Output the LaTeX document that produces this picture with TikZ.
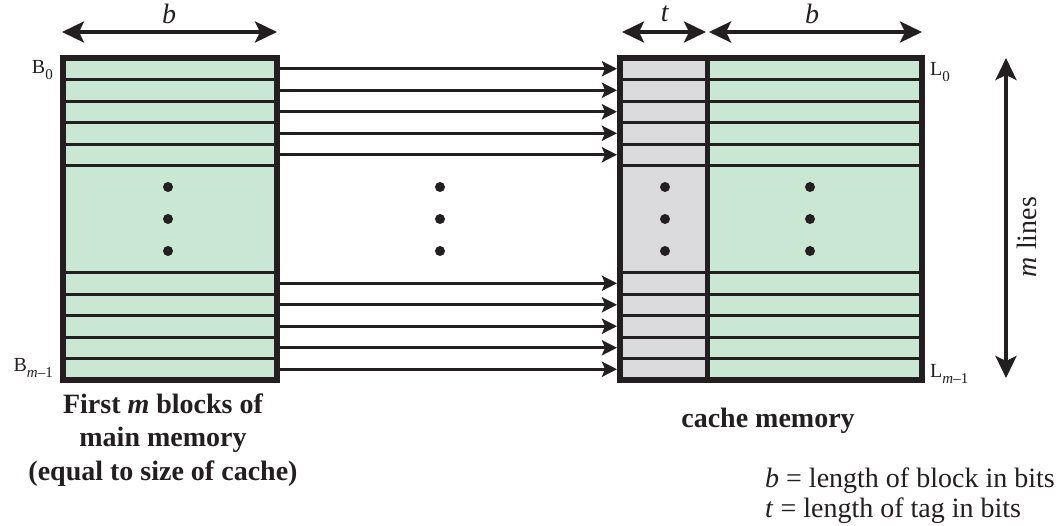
\documentclass[tikz,border=0pt]{standalone}
\usepackage{fontspec}
\setmainfont{Liberation Serif}
\usetikzlibrary{arrows.meta}
\definecolor{blkgreen}{RGB}{201,231,211}
\definecolor{taggray}{RGB}{219,219,222}
\definecolor{ink}{RGB}{35,31,32}
\newcommand{\lsub}[1]{\raisebox{-6pt}{\fontsize{15}{15}\selectfont #1}}

\begin{document}
\begin{tikzpicture}[x=1pt,y=-1pt,
  every node/.style={font=\fontsize{28}{30}\selectfont, text=ink, inner sep=0pt},
  lbl/.style={font=\fontsize{20}{22}\selectfont},
  frame/.style={draw=ink, line width=6pt},
  sep/.style={draw=ink, line width=3pt},
  dimarrow/.style={draw=ink, line width=4pt,
    {Stealth[length=22pt,width=21pt,inset=5pt]}-{Stealth[length=22pt,width=21pt,inset=5pt]}},
  maparrow/.style={draw=ink, line width=3pt, -{Stealth[length=15pt,width=15pt,inset=3pt]}}]
\useasboundingbox (0,0) rectangle (1059,525);

% main memory and cache fills
\fill[blkgreen] (63,58) rectangle (277,380);
\fill[taggray] (620,58) rectangle (707,380);
\fill[blkgreen] (707,58) rectangle (922,380);

% rows at top and bottom, with the mapping arrows
\foreach \k in {1,...,5} {
 \draw[sep] (63,{58+21.5*\k}) --++(214,0);
 \draw[sep] (63,{380-21.5*\k}) --++(214,0);
 \draw[sep] (620,{58+21.5*\k}) --++(302,0);
 \draw[sep] (620,{380-21.5*\k}) --++(302,0);
 \coordinate (Bt\k) at (280,{58+21.5*(\k-0.5)});
 \coordinate (Lt\k) at (617,{58+21.5*(\k-0.5)});
 \coordinate (Bb\k) at (280,{380-21.5*(\k-0.5)});
 \coordinate (Lb\k) at (617,{380-21.5*(\k-0.5)});
 \draw[maparrow] (Bt\k) -- (Lt\k);
 \draw[maparrow] (Bb\k) -- (Lb\k);
}

% frames
\draw[frame] (63,58) rectangle (277,380);
\draw[frame] (620,58) rectangle (922,380);
\draw[ink, line width=5pt] (707,58) -- (707,380);

% vertical dots
\foreach \x in {168, 440, 665, 810} {
 \foreach \y in {187, 219, 251}
  \fill[ink] (\x,\y) circle (5pt);
}

% widths
\coordinate (bL) at (62,32);
\coordinate (bR) at (277,32);
\coordinate (tL) at (622,32);
\coordinate (tR) at (706,32);
\coordinate (cL) at (709,32);
\coordinate (cR) at (922,32);
\draw[dimarrow] (bL) -- (bR);
\draw[dimarrow] (tL) -- (tR);
\draw[dimarrow] (cL) -- (cR);
\node (blabel) at (169,14) {\textit{b}};
\node (tlabel) at (665,14) {\textit{t}};
\node (clabel) at (812,14) {\textit{b}};

% m lines
\coordinate (mT) at (1006,58);
\coordinate (mB) at (1006,378);
\draw[dimarrow] (mT) -- (mB);
\node[rotate=90] (mlabel) at (1027,237) {\textit{m} lines};

% block and line labels
\node[lbl, anchor=base east] (B0) at (53,73) {B\lsub{0}};
\node[lbl, anchor=base east] (Bm) at (53,371) {B\lsub{\textit{m}\textendash 1}};
\node[lbl, anchor=base west] (L0) at (930,75) {L\lsub{0}};
\node[lbl, anchor=base west] (Lm) at (930,377) {L\lsub{\textit{m}\textendash 1}};

% captions
\node[anchor=base, align=center, font=\fontsize{28}{33.5}\selectfont\bfseries] (mainmem) at (163,480)
 {First \textit{m} blocks of\\main memory\\(equal to size of cache)};
\node[anchor=base, font=\fontsize{28}{30}\selectfont\bfseries] (cachemem) at (768,427) {cache memory};
\node[anchor=base west] (legb) at (765,487) {\textit{b} = length of block in bits};
\node[anchor=base west] (legt) at (765,517) {\textit{t} = length of tag in bits};
\end{tikzpicture}
\end{document}
